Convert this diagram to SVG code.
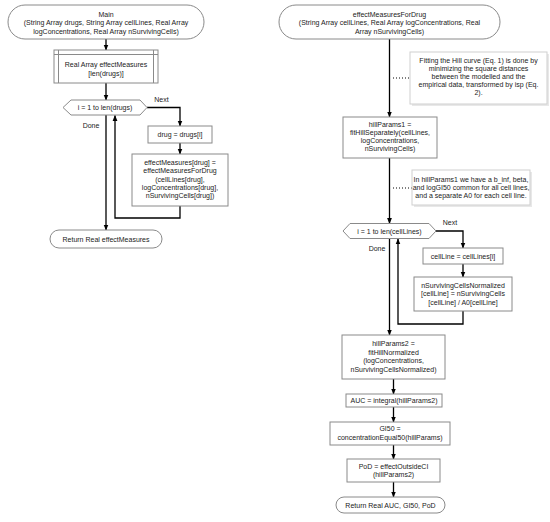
<svg xmlns="http://www.w3.org/2000/svg" width="550" height="522" viewBox="0 0 550 522">
<defs>
<marker id="ah" viewBox="0 0 10 10" refX="9" refY="5" markerWidth="6" markerHeight="6" markerUnits="userSpaceOnUse" orient="auto"><path d="M0,1 L10,5 L0,9 Z" fill="#000"/></marker>
</defs>
<style>
text{font-family:"Liberation Sans",Arial,sans-serif;font-size:7px;fill:#222;text-anchor:middle}
.box{fill:#fff;stroke:#8a8a8a;stroke-width:1}
.note{fill:#fff;stroke:#cfcfcf;stroke-width:1}
.sh{fill:#e8e8e8;stroke:none}
.c{fill:none;stroke:#000;stroke-width:1.3}
.ca{fill:none;stroke:#000;stroke-width:1.3;marker-end:url(#ah)}
.dot{fill:none;stroke:#000;stroke-width:1;stroke-dasharray:1 2}
</style>
<rect width="550" height="522" fill="#fff"/>
<g id="connectors">
<path class="ca" d="M106,39 V50"/>
<path class="ca" d="M106,83 V100"/>
<path class="ca" d="M147,107.5 H180 V126"/>
<path class="ca" d="M180,143 V154"/>
<path class="ca" d="M180,206 V218 H115 V115.5"/>
<path class="ca" d="M106,115 V230"/>
<path class="ca" d="M389.5,39 V117"/>
<path class="dot" d="M393,78 H410"/>
<path class="ca" d="M389.5,158 V223.5"/>
<path class="dot" d="M393,188 H412"/>
<path class="ca" d="M436,231 H463 V248"/>
<path class="ca" d="M463,264 V277"/>
<path class="ca" d="M463,311 V324 H398 V239"/>
<path class="ca" d="M389.5,238.5 V335"/>
<path class="ca" d="M393.5,379 V394"/>
<path class="ca" d="M393.5,407 V422"/>
<path class="ca" d="M393.5,445 V459"/>
<path class="ca" d="M393.5,482 V497"/>
</g>
<g id="lbl-next1"><text x="161.5" y="101.5">Next</text></g>
<g id="lbl-done1"><text x="91" y="127.5">Done</text></g>
<g id="lbl-next2"><text x="450" y="224.5">Next</text></g>
<g id="lbl-done2"><text x="377" y="250.5">Done</text></g>
<g id="main">
<rect class="box" x="8" y="5" width="196" height="34" rx="17"/>
<text x="106" y="16.5">Main</text>
<text x="106" y="25">(String Array drugs, String Array cellLines, Real Array</text>
<text x="106" y="33.5">logConcentrations, Real Array nSurvivingCells)</text>
</g>
<g id="decl">
<rect class="box" x="54" y="50" width="104" height="33"/>
<path d="M58.5,50 V83 M153.5,50 V83 M54,54.5 H158" fill="none" stroke="#8a8a8a" stroke-width="1"/>
<text x="106" y="67">Real Array effectMeasures</text>
<text x="106" y="75.5">[len(drugs)]</text>
</g>
<g id="loop1">
<polygon class="box" points="63,107.5 71,100 140,100 147,107.5 140,115 71,115"/>
<text x="105" y="110">i = 1 to len(drugs)</text>
</g>
<g id="drug">
<rect class="box" x="148" y="126" width="64" height="17"/>
<text x="180" y="137">drug = drugs[i]</text>
</g>
<g id="effm">
<rect class="box" x="132" y="154" width="96" height="52"/>
<text x="180" y="165">effectMeasures[drug] =</text>
<text x="180" y="173.3">effectMeasuresForDrug</text>
<text x="180" y="181.6">(cellLines[drug],</text>
<text x="180" y="189.9">logConcentrations[drug],</text>
<text x="180" y="198.2">nSurvivingCells[drug])</text>
</g>
<g id="ret1">
<rect class="box" x="50" y="230" width="112" height="18" rx="9"/>
<text x="106" y="241.5">Return Real effectMeasures</text>
</g>
<g id="emfd">
<rect class="box" x="279" y="5" width="221" height="34" rx="17"/>
<text x="389.5" y="16.5">effectMeasuresForDrug</text>
<text x="389.5" y="25">(String Array cellLines, Real Array logConcentrations, Real</text>
<text x="389.5" y="33.5">Array nSurvivingCells)</text>
</g>
<g id="note1">
<rect class="sh" x="412" y="54" width="137" height="52"/>
<rect class="note" x="410" y="52" width="137" height="52"/>
<text x="478.5" y="62.5">Fitting the Hill curve (Eq. 1) is done by</text>
<text x="478.5" y="70.5">minimizing the square distances</text>
<text x="478.5" y="78.5">between the modelled and the</text>
<text x="478.5" y="86.5">empirical data, transformed by isp (Eq.</text>
<text x="478.5" y="94.5">2).</text>
</g>
<g id="hp1">
<rect class="box" x="343" y="117" width="94" height="41"/>
<text x="390" y="127">hillParams1 =</text>
<text x="390" y="135">fitHillSeparately(cellLines,</text>
<text x="390" y="143">logConcentrations,</text>
<text x="390" y="151">nSurvivingCells)</text>
</g>
<g id="note2">
<rect class="sh" x="414" y="172" width="118" height="35"/>
<rect class="note" x="412" y="170" width="118" height="35"/>
<text x="471" y="181.5">In hillParams1 we have a b_inf, beta,</text>
<text x="471" y="189.5">and logGI50 common for all cell lines,</text>
<text x="471" y="197.5">and a separate A0 for each cell line.</text>
</g>
<g id="loop2">
<polygon class="box" points="343,231 350,223.5 429,223.5 436,231 429,238.5 350,238.5"/>
<text x="389.5" y="233.5">i = 1 to len(cellLines)</text>
</g>
<g id="cl">
<rect class="box" x="423" y="248" width="80" height="16"/>
<text x="463" y="258.5">cellLine = cellLines[i]</text>
</g>
<g id="nsn">
<rect class="box" x="414" y="277" width="98" height="34"/>
<text x="463" y="288">nSurvivingCellsNormalized</text>
<text x="463" y="296.3">[cellLine] = nSurvivingCells</text>
<text x="463" y="304.6">[cellLine] / A0[cellLine]</text>
</g>
<g id="hp2">
<rect class="box" x="342" y="335" width="103" height="44"/>
<text x="393.5" y="346">hillParams2 =</text>
<text x="393.5" y="354.5">fitHillNormalized</text>
<text x="393.5" y="363">(logConcentrations,</text>
<text x="393.5" y="371.5">nSurvivingCellsNormalized)</text>
</g>
<g id="auc">
<rect class="box" x="346" y="394" width="96" height="13"/>
<text x="394" y="403">AUC = integral(hillParams2)</text>
</g>
<g id="gi50">
<rect class="box" x="330" y="422" width="120" height="23"/>
<text x="390" y="431">GI50 =</text>
<text x="390" y="439.5">concentrationEqual50(hillParams)</text>
</g>
<g id="pod">
<rect class="box" x="347" y="459" width="93" height="23"/>
<text x="393.5" y="468.5">PoD = effectOutsideCI</text>
<text x="393.5" y="477">(hillParams2)</text>
</g>
<g id="ret2">
<rect class="box" x="336" y="497" width="109" height="16" rx="8"/>
<text x="390.5" y="507.5">Return Real AUC, GI50, PoD</text>
</g>
</svg>
